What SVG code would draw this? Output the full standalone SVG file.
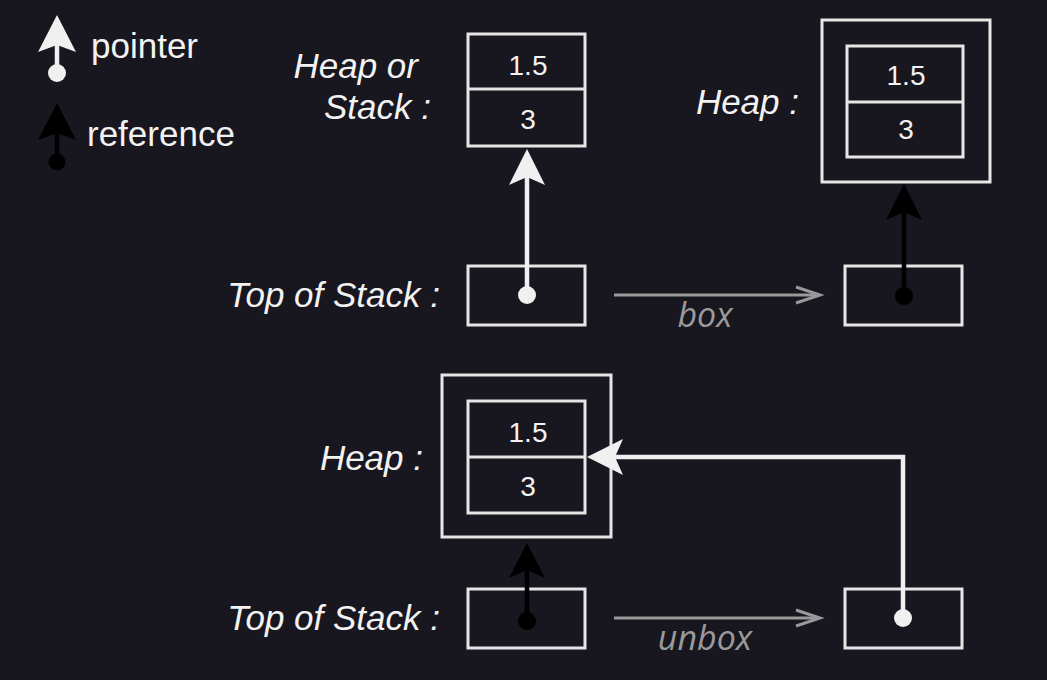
<svg xmlns="http://www.w3.org/2000/svg" width="1047" height="680" viewBox="0 0 1047 680">
<style>
.bx{fill:none;stroke:#e6e6e6;stroke-width:3}
.lbl{font-family:"Liberation Sans",Arial,sans-serif;font-style:italic;font-size:35px;fill:#f2f2f2;text-anchor:end}
.num{font-family:"Liberation Sans",Arial,sans-serif;font-size:28px;fill:#f2f2f2;text-anchor:middle}
.leg{font-family:"Liberation Sans",Arial,sans-serif;font-size:35px;fill:#f2f2f2}
.op{font-family:"Open Sans",sans-serif;font-style:italic;font-size:34px;fill:#9a9a9a;text-anchor:middle}
.wl{fill:none;stroke:#f0f0f0;stroke-width:4.5}
.bl{fill:none;stroke:#000;stroke-width:4.5}
.gl{fill:none;stroke:#999;stroke-width:3}
.w{fill:#f0f0f0}
.k{fill:#000}
</style>
<rect width="1047" height="680" fill="#18161e"/>

<g id="legend">
<line class="wl" x1="57" y1="45" x2="57" y2="73"/>
<path class="w" d="M57 15 L76 52 L57 45 L38 52 Z"/>
<circle class="w" cx="57" cy="73" r="9"/>
<text class="leg" x="91" y="58">pointer</text>
<line class="bl" x1="57" y1="133" x2="57" y2="162"/>
<path class="k" d="M57 103 L76 140 L57 133 L38 140 Z"/>
<circle class="k" cx="57" cy="162" r="8.5"/>
<text class="leg" x="87" y="146">reference</text>
</g>

<g id="heap-or-stack">
<text class="lbl" x="418" y="78">Heap or</text>
<text class="lbl" x="431" y="119">Stack :</text>
<rect class="bx" x="468" y="34" width="117" height="112"/>
<line class="bx" x1="468" y1="89" x2="585" y2="89"/>
<text class="num" x="528" y="75">1.5</text>
<text class="num" x="528" y="129">3</text>
</g>

<g id="stack-top1">
<text class="lbl" x="440" y="307">Top of Stack :</text>
<rect class="bx" x="468" y="266" width="117" height="59"/>
</g>

<g id="heap-boxed">
<text class="lbl" x="799" y="114">Heap :</text>
<rect class="bx" x="822" y="20" width="168" height="162"/>
<rect class="bx" x="847" y="46" width="116" height="111"/>
<line class="bx" x1="847" y1="102" x2="963" y2="102"/>
<text class="num" x="906" y="85">1.5</text>
<text class="num" x="906" y="139">3</text>
</g>

<g id="stack-top2">
<rect class="bx" x="845" y="266" width="117" height="59"/>
</g>

<g id="heap-bottom">
<text class="lbl" x="423" y="470">Heap :</text>
<rect class="bx" x="442" y="375" width="169" height="162"/>
<rect class="bx" x="468" y="401" width="117" height="112"/>
<line class="bx" x1="468" y1="457" x2="585" y2="457"/>
<text class="num" x="528" y="442">1.5</text>
<text class="num" x="528" y="496">3</text>
</g>

<g id="stack-top3">
<text class="lbl" x="440" y="630">Top of Stack :</text>
<rect class="bx" x="468" y="589" width="117" height="59"/>
</g>

<g id="stack-top4">
<rect class="bx" x="845" y="589" width="117" height="59"/>
</g>

<g id="connectors">
<line class="wl" x1="527" y1="177" x2="527" y2="295"/>
<path class="w" d="M527 149 L545 185 L527 177 L509 185 Z"/>
<circle class="w" cx="527" cy="295" r="9"/>

<line class="bl" x1="904" y1="212" x2="904" y2="296"/>
<path class="k" d="M904 184 L922 220 L904 212 L886 220 Z"/>
<circle class="k" cx="904" cy="296" r="9"/>

<line class="gl" x1="614" y1="295" x2="818" y2="295"/>
<polyline class="gl" points="796,287 820,295 796,303"/>
<text class="op" x="705" y="327">box</text>

<line class="bl" x1="527" y1="570" x2="527" y2="621"/>
<path class="k" d="M527 543 L545 578 L527 570 L509 578 Z"/>
<circle class="k" cx="527" cy="621" r="9"/>

<polyline class="wl" points="903,618 903,457 614,457"/>
<path class="w" d="M587 457 L623 439 L615 457 L623 475 Z"/>
<circle class="w" cx="903" cy="618" r="9"/>

<line class="gl" x1="614" y1="618" x2="818" y2="618"/>
<polyline class="gl" points="796,610 820,618 796,626"/>
<text class="op" x="705" y="650">unbox</text>
</g>
</svg>
